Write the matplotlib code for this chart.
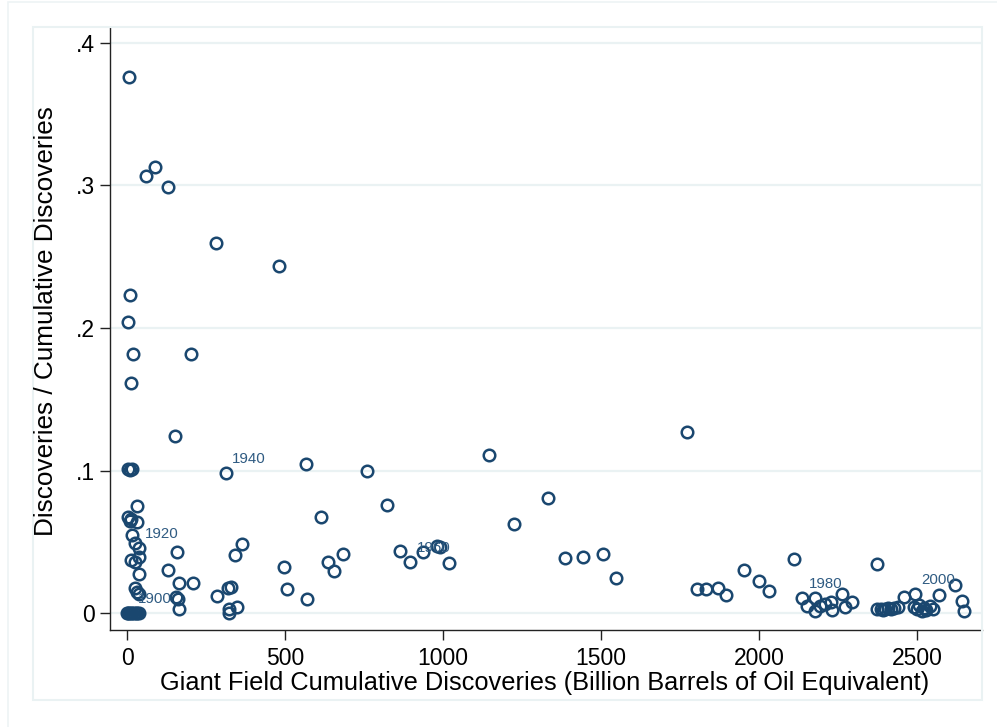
import matplotlib
matplotlib.use('Agg')
import matplotlib.pyplot as plt
from matplotlib.patches import Rectangle

plt.rcParams['font.family'] = ['Liberation Sans', 'DejaVu Sans']

# giant field cumulative discoveries (billion boe) and yearly discoveries / cumulative
cum_disc = [
    6, 60, 90, 128, 281, 481, 10, 3, 20, 203, 13, 152,
    3, 10, 17, 313, 33, 4, 8, 14, 30, 15, 25, 38, 39, 12, 25, 39, 25, 33, 39,
    0, 3, 7, 12, 16, 22, 27, 33, 38,
    131, 159, 164, 156, 162, 164, 208, 284, 321, 329, 323, 323, 347, 342, 363,
    497, 507, 565, 760, 1147, 613, 824, 1333, 1225, 571, 637, 656, 685,
    864, 896, 936, 982, 990, 1020, 1386, 1442, 1507, 1546,
    1771, 1803, 1834, 1869, 1896, 1953, 2001, 2033, 2112,
    2137, 2151, 2177, 2179, 2193, 2209, 2227, 2230, 2263, 2273, 2293,
    2374, 2375, 2385, 2392, 2400, 2410, 2418, 2428, 2440,
    2459, 2494, 2490, 2500, 2507, 2515, 2522, 2530, 2540, 2551,
    2569, 2621, 2644, 2649,
]
ratio = [
    0.376, 0.307, 0.313, 0.299, 0.2594, 0.2437, 0.223, 0.204, 0.182, 0.182, 0.1616, 0.124,
    0.101, 0.1005, 0.1008, 0.098, 0.0753, 0.0674, 0.0646, 0.066, 0.064, 0.0547, 0.0493, 0.0454, 0.0395, 0.0372, 0.036, 0.0271, 0.0178, 0.015, 0.0133,
    0, 0, 0, 0, 0, 0, 0, 0, 0,
    0.0302, 0.0426, 0.0208, 0.011, 0.0098, 0.0026, 0.0213, 0.0121, 0.0173, 0.0185, 0.0026, 0.0, 0.004, 0.0407, 0.0486,
    0.032, 0.0168, 0.1048, 0.0996, 0.1109, 0.0676, 0.076, 0.0809, 0.0622, 0.0096, 0.036, 0.0295, 0.0414,
    0.0437, 0.036, 0.0426, 0.047, 0.046, 0.0353, 0.0384, 0.0391, 0.0414, 0.0243,
    0.1268, 0.0168, 0.0168, 0.0178, 0.0126, 0.0302, 0.0227, 0.0154, 0.0379,
    0.0107, 0.0051, 0.0107, 0.0014, 0.005, 0.0063, 0.0079, 0.0021, 0.0133, 0.0044, 0.0079,
    0.0342, 0.0026, 0.003, 0.0022, 0.0028, 0.0032, 0.0025, 0.0035, 0.004,
    0.011, 0.0131, 0.0045, 0.0025, 0.0055, 0.0015, 0.0038, 0.002, 0.0048, 0.003,
    0.0126, 0.0196, 0.0084, 0.0016,
]
# a few points carry their discovery year
year_labels = {35: '1900', 23: '1920', 15: '1940', 69: '1960', 87: '1980', 108: '2000'}

y_ticks = [0, 0.1, 0.2, 0.3, 0.4]
y_ticklabels = ['0', '.1', '.2', '.3', '.4']
x_ticks = [0, 500, 1000, 1500, 2000, 2500]

navy = '#1a476f'
light = '#eaf2f3'

W, H = 997, 727
fig = plt.figure(figsize=(W / 100, H / 100), dpi=100)

# outer graph region and inner plot region outlines
fig.add_artist(Rectangle((8 / W, 1 - 760 / H), 1100 / W, 758 / H, transform=fig.transFigure,
                         fill=False, edgecolor='#eef3f5', lw=1.2))
fig.add_artist(Rectangle((33 / W, 1 - 700 / H), 949 / W, 673 / H, transform=fig.transFigure,
                         fill=False, edgecolor=light, lw=1.5))

ax = fig.add_axes([110 / W, 1 - 630 / H, 872 / W, 603 / H])
ax.set_facecolor('none')
for s in ['top', 'right']:
    ax.spines[s].set_visible(False)
for s in ['left', 'bottom']:
    ax.spines[s].set_linewidth(1.0)
    ax.spines[s].set_color('#222222')

for yv in y_ticks:
    ax.axhline(yv, color=light, lw=1.6, zorder=0)

ax.plot(cum_disc, ratio, linestyle='none', marker='o', ms=8.3, mfc='none',
        mec=navy, mew=1.8, zorder=3)

for i, txt in year_labels.items():
    ax.annotate(txt, (cum_disc[i], ratio[i]), xytext=(4.5, 10), textcoords='offset points',
                ha='left', va='center', fontsize=10.8, color='#2f5b82', zorder=4)

ax.set_xlim(-54, 2706)
ax.set_ylim(-0.0119, 0.4112)
ax.set_xticks(x_ticks)
ax.set_xticklabels([str(v) for v in x_ticks])
ax.set_yticks(y_ticks)
ax.set_yticklabels(y_ticklabels)
ax.tick_params(axis='both', length=7, width=1.0, direction='out', colors='#222222',
               labelcolor='black', labelsize=16.5)
ax.tick_params(axis='y', pad=4)
ax.tick_params(axis='x', pad=5)

fig.text(545 / W, 1 - 683 / H, 'Giant Field Cumulative Discoveries (Billion Barrels of Oil Equivalent)',
         ha='center', va='center', fontsize=18.3)
fig.text(46 / W, 1 - 321 / H, 'Discoveries / Cumulative Discoveries',
         ha='center', va='center', rotation=90, fontsize=18.8)

fig.savefig('out.png', dpi=100)
